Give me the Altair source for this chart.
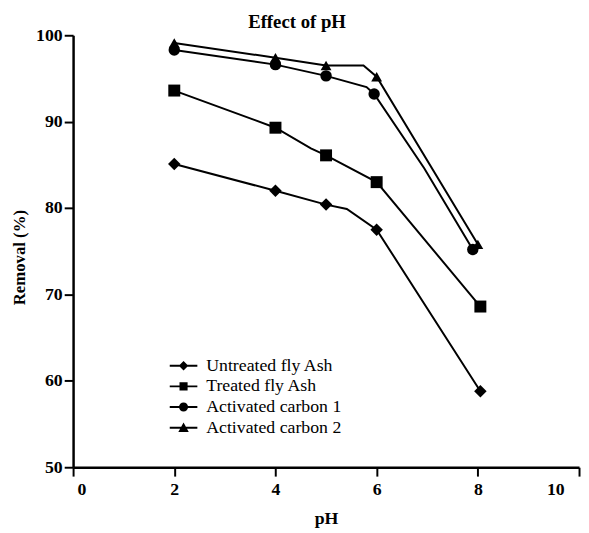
import altair as alt
import pandas as pd

series = ["Untreated fly Ash", "Treated fly Ash", "Activated carbon 1", "Activated carbon 2"]

# measured points (pH, removal %)
untreated_ph = [2, 4, 5, 6, 8.05]
untreated_rm = [85.1, 82.0, 80.4, 77.5, 58.8]
treated_ph = [2, 4, 5, 6, 8.05]
treated_rm = [93.6, 89.3, 86.1, 83.0, 68.6]
carbon1_ph = [2, 4, 5, 5.95, 7.9]
carbon1_rm = [98.3, 96.6, 95.3, 93.2, 75.2]
carbon2_ph = [2, 4, 5, 6, 8.0]
carbon2_rm = [99.1, 97.4, 96.5, 95.2, 75.8]

# vertices of the connecting curves
untreated_curve_ph = [2, 4, 5, 5.41, 6, 8.05]
untreated_curve_rm = [85.1, 82.0, 80.4, 79.9, 77.5, 58.8]
treated_curve_ph = [2, 4, 4.7, 5, 6, 8.05]
treated_curve_rm = [93.6, 89.3, 86.9, 86.1, 83.0, 68.6]
carbon1_curve_ph = [2, 4, 5, 5.8, 5.95, 6.94, 7.9]
carbon1_curve_rm = [98.3, 96.6, 95.3, 94.0, 93.2, 84.6, 75.2]
carbon2_curve_ph = [2, 4, 5, 5.74, 6, 8.0]
carbon2_curve_rm = [99.1, 97.4, 96.5, 96.5, 95.2, 75.8]

x_ticks = [0, 2, 4, 6, 8, 10]
y_ticks = [50, 60, 70, 80, 90, 100]

point_sets = [(untreated_ph, untreated_rm), (treated_ph, treated_rm),
              (carbon1_ph, carbon1_rm), (carbon2_ph, carbon2_rm)]
curve_sets = [(untreated_curve_ph, untreated_curve_rm), (treated_curve_ph, treated_curve_rm),
              (carbon1_curve_ph, carbon1_curve_rm), (carbon2_curve_ph, carbon2_curve_rm)]

pts = pd.DataFrame([
    {"series": s, "pH": x, "removal": y}
    for s, (xs, ys) in zip(series, point_sets) for x, y in zip(xs, ys)
])
crv = pd.DataFrame([
    {"series": s, "pH": x, "removal": y, "i": i}
    for s, (xs, ys) in zip(series, curve_sets) for i, (x, y) in enumerate(zip(xs, ys))
])

FONT = "Liberation Serif"

xscale = alt.Scale(domain=[0, 10], nice=False, zero=False)
yscale = alt.Scale(domain=[50, 100], nice=False, zero=False)

xaxis = alt.Axis(
    title="pH", values=x_ticks, format="d",
    labelOffset={"condition": [{"test": "datum.value == 10", "value": -15},
                               {"test": "datum.value == 0", "value": 4}], "value": 0},
    labelPadding=5, tickSize=9,
    titleBaseline="alphabetic", titleY=57, titleFontSize=18,
)
yaxis = alt.Axis(
    title="Removal (%)", values=y_ticks, format="d",
    labelPadding=2, tickSize=9,
    titleBaseline="alphabetic", titleX=-49, titleY=225, titleAngle=-90,
)
# chart heading drawn as the title of a bare top axis
top_axis = alt.Axis(
    orient="top", title="Effect of pH", labels=False, ticks=False, domain=False,
    titleAlign="left", titleAnchor="start", titleBaseline="alphabetic",
    titleX=177, titleY=-8, titleFontSize=19,
)

lines = alt.Chart(crv).mark_line(color="black", strokeWidth=2).encode(
    x=alt.X("pH:Q", scale=xscale, axis=xaxis),
    y=alt.Y("removal:Q", scale=yscale, axis=yaxis),
    detail="series:N",
    order="i:Q",
)

points = alt.Chart(pts).mark_point(filled=True, color="black", opacity=1).encode(
    x=alt.X("pH:Q", scale=xscale, axis=None),
    y=alt.Y("removal:Q", scale=yscale),
    shape=alt.Shape("series:N", scale=alt.Scale(domain=series,
                    range=["diamond", "square", "circle", "triangle-up"]), legend=None),
    size=alt.Size("series:N", scale=alt.Scale(domain=series, range=[160, 121, 110, 150]), legend=None),
)

# legend glyphs: short line with the marker on it (unit = 10 px at symbolSize 400)
bar = "M-1.4,-0.1L1.4,-0.1L1.4,0.1L-1.4,0.1Z "
legend_paths = [
    bar + "M0,-0.48L0.48,0L0,0.48L-0.48,0Z",
    bar + "M-0.41,-0.41L0.41,-0.41L0.41,0.41L-0.41,0.41Z",
    bar + "M0.46,0A0.46,0.46 0 1,1 -0.46,0A0.46,0.46 0 1,1 0.46,0Z",
    bar + "M0,-0.53L0.53,0.42L-0.53,0.42Z",
]

legend_layer = alt.Chart(pts).mark_point(filled=True, color="black", opacity=0).encode(
    x=alt.X("pH:Q", scale=xscale, axis=top_axis),
    y=alt.Y("removal:Q", scale=yscale),
    shape=alt.Shape("series:N", scale=alt.Scale(domain=series, range=legend_paths),
                    legend=alt.Legend(title=None, orient="none", legendX=102, legendY=325,
                                      symbolSize=400, symbolStrokeWidth=0,
                                      symbolFillColor="black", symbolOpacity=1,
                                      labelFont=FONT, labelFontSize=18, labelColor="black",
                                      labelOffset=13, rowPadding=2, padding=0)),
)

chart = alt.layer(lines, points, legend_layer).resolve_scale(
    shape="independent", size="independent"
).resolve_axis(x="independent").properties(
    width=513, height=438,
    autosize=alt.AutoSizeParams(type="none"),
    padding={"left": 66, "top": 24, "right": 2, "bottom": 60},
).configure_view(stroke=None).configure_axis(
    grid=False, domainColor="black", domainWidth=2.5, tickColor="black", tickWidth=2,
    labelFont=FONT, labelFontSize=18, labelFontWeight="bold", labelColor="black",
    titleFont=FONT, titleFontSize=17, titleFontWeight="bold", titleColor="black",
)

chart.save("out.html", embed_options={"renderer": "svg", "actions": False})
